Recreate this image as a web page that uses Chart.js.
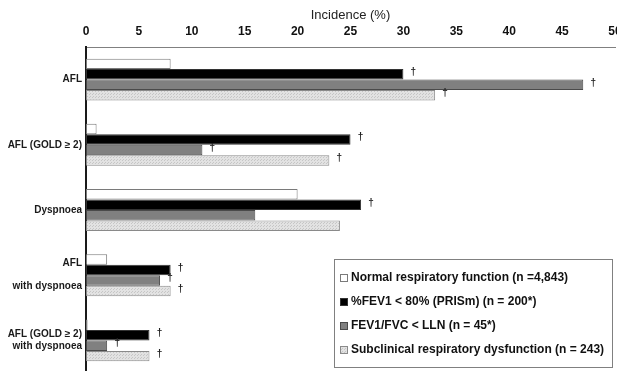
<!DOCTYPE html>
<html>
<head>
<meta charset="utf-8">
<script src="https://cdn.jsdelivr.net/npm/chart.js@4.4.0/dist/chart.umd.min.js"></script>
<style>
  html, body { margin: 0; padding: 0; background: #fff; overflow: hidden; }
  #wrap { position: relative; width: 617px; height: 373px; }
</style>
</head>
<body>
<div id="wrap"><canvas id="chart"></canvas></div>
<script>
const categories = [
  "AFL",
  "AFL (GOLD \u2265 2)",
  "Dyspnoea",
  ["AFL", "", "with dyspnoea"],
  ["AFL (GOLD \u2265 2)", "with dyspnoea"]
];

const seriesNames = [
  "Normal respiratory function (n =4,843)",
  "%FEV1 < 80% (PRISm) (n = 200*)",
  "FEV1/FVC < LLN (n = 45*)",
  "Subclinical respiratory dysfunction (n = 243)"
];

const normalValues = [8, 1, 20, 2, 0.15];
const prismValues = [30, 25, 26, 8, 6];
const obstructionValues = [47, 11, 16, 7, 2];
const subclinicalValues = [33, 23, 24, 8, 6];

// dagger (significant vs normal) marks per bar
const normalDagger = [false, false, false, false, false];
const prismDagger = [true, true, true, true, true];
const obstructionDagger = [true, true, false, true, true];
const subclinicalDagger = [true, true, false, true, true];

const xTicks = [0, 5, 10, 15, 20, 25, 30, 35, 40, 45, 50];

const FONT = '"Liberation Sans", Arial, sans-serif';

// light dotted fill like the excel pattern
function dotPattern() {
  const c = document.createElement("canvas");
  c.width = 3; c.height = 3;
  const g = c.getContext("2d");
  g.fillStyle = "#e2e2e2";
  g.fillRect(0, 0, 3, 3);
  g.fillStyle = "#c6c6c6";
  g.fillRect(0, 0, 1, 1);
  g.fillRect(2, 1, 1, 1);
  return g.createPattern(c, "repeat");
}

const daggerPlugin = {
  id: "daggers",
  afterDatasetsDraw(chart) {
    const ctx = chart.ctx;
    ctx.save();
    ctx.font = "bold 10px " + FONT;
    ctx.fillStyle = "#222";
    ctx.textAlign = "center";
    ctx.textBaseline = "middle";
    chart.data.datasets.forEach((ds, i) => {
      const meta = chart.getDatasetMeta(i);
      meta.data.forEach((bar, j) => {
        if (ds.daggers[j]) ctx.fillText("\u2020", bar.x + 10, bar.y - 2);
      });
    });
    ctx.restore();
  }
};

const boxLegend = {
  id: "boxLegend",
  afterDraw(chart) {
    const ctx = chart.ctx;
    ctx.save();
    ctx.fillStyle = "#fff";
    ctx.fillRect(334.5, 259.5, 278, 108);
    ctx.strokeStyle = "#808080";
    ctx.lineWidth = 1;
    ctx.strokeRect(334.5, 259.5, 278, 108);
    ctx.font = "bold 12px " + FONT;
    ctx.textBaseline = "middle";
    chart.data.datasets.forEach((ds, i) => {
      const y = 278 + i * 24;
      ctx.fillStyle = ds.backgroundColor;
      ctx.fillRect(340.5, y - 3.5, 7, 7);
      ctx.strokeStyle = ds.borderColor;
      ctx.strokeRect(340.5, y - 3.5, 7, 7);
      ctx.fillStyle = "#111";
      ctx.fillText(ds.label, 351, y);
    });
    ctx.restore();
  }
};

const ctx = document.getElementById("chart").getContext("2d");
const chart = new Chart(ctx, {
  type: "bar",
  data: {
    labels: categories,
    datasets: [
      { label: seriesNames[0], data: normalValues, daggers: normalDagger,
        backgroundColor: "#ffffff", borderColor: "#7a7a7a" },
      { label: seriesNames[1], data: prismValues, daggers: prismDagger,
        backgroundColor: "#000000", borderColor: "#333333" },
      { label: seriesNames[2], data: obstructionValues, daggers: obstructionDagger,
        backgroundColor: "#808080", borderColor: "#4a4a4a" },
      { label: seriesNames[3], data: subclinicalValues, daggers: subclinicalDagger,
        backgroundColor: dotPattern(), borderColor: "#8a8a8a" }
    ]
  },
  options: {
    indexAxis: "y",
    responsive: true,
    maintainAspectRatio: false,
    animation: false,
    layout: { padding: { left: 0, right: 2, top: 0, bottom: 0 } },
    datasets: {
      bar: {
        borderWidth: 1,
        borderSkipped: false,
        categoryPercentage: 0.643,
        barPercentage: 1
      }
    },
    plugins: {
      legend: { display: false },
      tooltip: { enabled: false }
    },
    scales: {
      x: {
        position: "top",
        min: 0,
        max: 50,
        afterBuildTicks: scale => { scale.ticks = xTicks.map(v => ({ value: v })); },
        afterFit: scale => { scale.height = 47; scale.paddingRight = 0; },
        grid: { display: false, drawTicks: false },
        border: { display: true, color: "#808080", width: 1 },
        ticks: {
          padding: 8,
          color: "#111",
          font: { family: FONT, size: 12, weight: "bold" }
        },
        title: {
          display: true,
          text: "Incidence (%)",
          color: "#222",
          padding: { top: 8, bottom: 0 },
          font: { family: FONT, size: 13 }
        }
      },
      y: {
        afterFit: scale => {
          scale.width = 86;
          scale.paddingTop = 0;
          scale.paddingBottom = 0;
        },
        grid: { display: false, drawTicks: false },
        border: { display: true, color: "#1a1a1a", width: 2 },
        ticks: {
          padding: 4,
          color: "#1a1a1a",
          font: { family: FONT, size: 10, weight: "bold", lineHeight: 1.15 }
        }
      }
    }
  },
  plugins: [daggerPlugin, boxLegend]
});
</script>
</body>
</html>
